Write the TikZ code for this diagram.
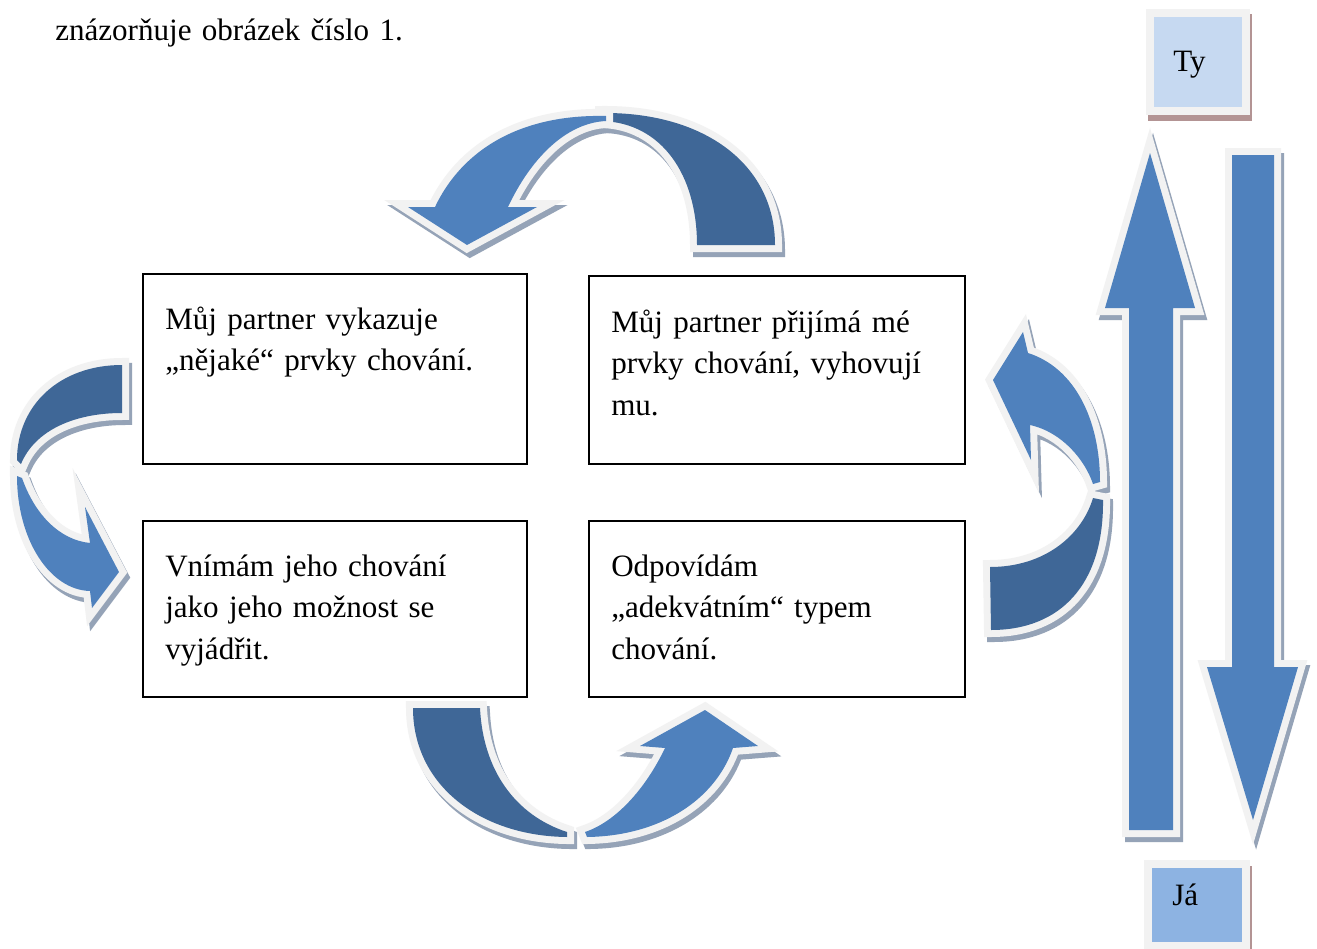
\documentclass[tikz,border=0pt]{standalone}
\usepackage{fontspec}
\setmainfont{Liberation Serif}
\definecolor{lblue}{HTML}{4F81BD}
\definecolor{dblue}{HTML}{3F6797}
\definecolor{outl}{HTML}{F2F2F2}
\definecolor{shad}{HTML}{95A3B7}
\definecolor{rshad}{HTML}{B39494}
\definecolor{tyfill}{HTML}{C6D9F1}
\definecolor{jafill}{HTML}{8DB3E2}
\newcommand\myshadow[1]{\fill[shad,draw=shad,line width=10.5pt,shift={(3,5)}] #1;}
\newcommand\mybody[2]{\filldraw[draw=outl,fill=outl,line width=10.5pt] #2; \fill[#1] #2;}
\begin{document}
\begin{tikzpicture}[x=0.75pt,y=-0.75pt,line join=miter,
  bx/.style={draw=black,line width=1.4pt,inner sep=0pt},
  txt/.style={anchor=base west,inner sep=0pt,align=left,text width=285pt,font=\fontsize{23.3}{31.3}\selectfont},
  sq/.style={draw=outl,line width=6pt,inner sep=0pt}]
\useasboundingbox (0,0) rectangle (1317,949);
\clip (0,0) rectangle (1317,949);
\fill[white] (0,0) rectangle (1317,949);

% intro text
\node[txt] (intro) at (55,41) {znázorňuje obrázek číslo 1.};

% boxes
\node[bx,minimum width=288pt,minimum height=142.5pt] (b1) at (335,369) {};
\node[bx,minimum width=282pt,minimum height=141pt] (b2) at (777,370) {};
\node[bx,minimum width=288pt,minimum height=132pt] (b3) at (335,609) {};
\node[bx,minimum width=282pt,minimum height=132pt] (b4) at (777,609) {};
\node[txt] (t1) at (165,329) {Můj partner vykazuje\\„nějaké“ prvky chování.};
\node[txt] (t2) at (611,332) {Můj partner přijímá mé\\prvky chování, vyhovují\\mu.};
\node[txt] (t3) at (165,576) {Vnímám jeho chování\\jako jeho možnost se\\vyjádřit.};
\node[txt] (t4) at (611,576) {Odpovídám\\„adekvátním“ typem\\chování.};

% curved arrow paths
\def\topdark{(602,113) .. controls (705,112) and (775,165) .. (775,245) -- (697,245) .. controls (697,175) and (662,123) .. (602,121) -- cycle}
\def\toplight{(606,116) .. controls (520,114) and (462,150) .. (435,207) -- (408,207) -- (467,245) -- (537,207) -- (508,207) .. controls (530,160) and (565,123) .. (606,121) -- cycle}
\def\leftdark{(122,365) .. controls (60,365) and (17,405) .. (17,460) -- (21,464) .. controls (35,430) and (75,413) .. (122,413) -- cycle}
\def\leftlight{(17,476) .. controls (17,540) and (50,590) .. (90,591) -- (92,608) -- (119,572) -- (85,507) -- (90,543) .. controls (60,540) and (35,515) .. (22,478) -- cycle}
\def\rightdark{(990,567) .. controls (1045,567) and (1082,535) .. (1093,498) -- (1103,500) .. controls (1104,585) and (1060,630) .. (991,630) -- cycle}
\def\rightlight{(1028,353) .. controls (1075,368) and (1100,420) .. (1100,482) -- (1093,484) .. controls (1085,460) and (1062,432) .. (1030,425) -- (1031,460) -- (993,380) -- (1023,332) -- cycle}
\def\botdark{(413,708) .. controls (413,785) and (480,836) .. (567,837) -- (567,832) .. controls (515,815) and (483,770) .. (480,708) -- cycle}
\def\botlight{(587,837) .. controls (660,836) and (715,800) .. (733,748) -- (758,746) -- (705,710) -- (640,746) -- (665,748) .. controls (645,790) and (615,822) .. (585,832) -- cycle}
\def\uparr{(1150,153) -- (1195,308) -- (1173,308) -- (1173,830) -- (1129,830) -- (1129,308) -- (1105,308) -- cycle}
\def\downarr{(1232,155) -- (1274,155) -- (1274,667) -- (1298,667) -- (1253,820) -- (1207,667) -- (1232,667) -- cycle}

% top arrow
\myshadow{\topdark}\myshadow{\toplight}
\mybody{dblue}{\topdark}\mybody{lblue}{\toplight}
% left arrow
\myshadow{\leftdark}\myshadow{\leftlight}
\mybody{dblue}{\leftdark}\mybody{lblue}{\leftlight}
% right arrow
\myshadow{\rightdark}\myshadow{\rightlight}
\mybody{dblue}{\rightdark}\mybody{lblue}{\rightlight}
% bottom arrow
\myshadow{\botdark}\myshadow{\botlight}
\mybody{dblue}{\botdark}\mybody{lblue}{\botlight}
% vertical arrows
\myshadow{\uparr}\myshadow{\downarr}
\mybody{lblue}{\uparr}\mybody{lblue}{\downarr}

% Ty / Ja boxes
\fill[rshad] (1148,14) rectangle (1252,121);
\node[sq,fill=tyfill,minimum width=72pt,minimum height=73.5pt] (ty) at (1198,62) {};
\node[txt] (tytext) at (1173,72) {Ty};
\fill[rshad] (1150,866) rectangle (1252,960);
\node[sq,fill=jafill,minimum width=73.5pt,minimum height=61.5pt] (ja) at (1197,905) {};
\node[txt] (jatext) at (1172,905) {Já};
\end{tikzpicture}
\end{document}
